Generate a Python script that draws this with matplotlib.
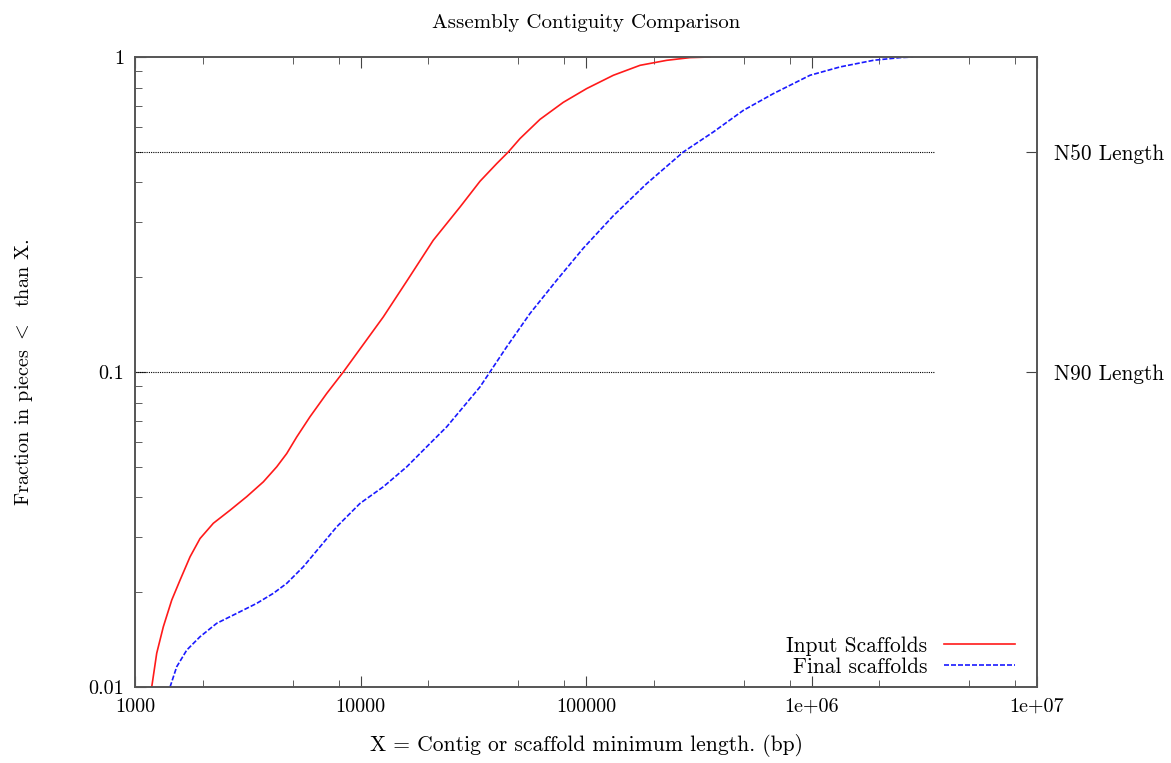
import matplotlib
matplotlib.use("Agg")
import matplotlib.pyplot as plt
from matplotlib.ticker import FixedLocator, NullFormatter

plt.rcParams['font.family'] = ['cmr10', 'DejaVu Serif']
plt.rcParams['mathtext.fontset'] = 'cm'
plt.rcParams['axes.unicode_minus'] = False

# values
input_x = [1186, 1248, 1335, 1455, 1584, 1754, 1942, 2225, 2638, 3128, 3707, 4250, 4707,
           5213, 5970, 7082, 8387, 9290, 12620, 16240, 21020, 27620, 33880, 40180, 45230,
           50970, 62520, 79300, 100700, 132200, 173600, 228000, 289300, 354700]
input_y = [0.0100, 0.0128, 0.01553, 0.01888, 0.02185, 0.0259, 0.0296, 0.0331, 0.0364,
           0.0402, 0.0448, 0.0500, 0.0551, 0.0622, 0.0721, 0.0855, 0.1000, 0.1106, 0.1496,
           0.197, 0.262, 0.334, 0.4033, 0.4588, 0.4995, 0.551, 0.634, 0.718, 0.794, 0.875,
           0.941, 0.976, 0.9956, 1.0]

final_x = [1430, 1531, 1696, 1942, 2303, 2825, 3465, 4105, 4707, 5575, 6613, 7844, 9949,
           12620, 16030, 19660, 24120, 28580, 33880, 38810, 44490, 56440, 74130, 97270,
           132200, 185900, 270100, 366900, 498400, 676900, 984800, 1338000, 1880000,
           2470000, 2830000]
final_y = [0.0100, 0.0116, 0.0131, 0.01444, 0.01593, 0.01713, 0.01843, 0.01983, 0.02133,
           0.02408, 0.02787, 0.03226, 0.03827, 0.04321, 0.0500, 0.0579, 0.0670, 0.0775,
           0.0897, 0.1038, 0.1202, 0.1534, 0.1956, 0.2472, 0.3134, 0.3965, 0.4995, 0.578,
           0.677, 0.765, 0.875, 0.930, 0.976, 0.9956, 1.0]

nx_levels = [0.5, 0.1]
nx_labels = ["N50 Length", "N90 Length"]
nx_xmax = 3500000

x_ticks = [1e3, 1e4, 1e5, 1e6, 1e7]
x_tick_labels = ["1000", "10000", "100000", "1e+06", "1e+07"]
y_ticks = [0.01, 0.1, 1]
y_tick_labels = ["0.01", "0.1", "1"]

fig = plt.figure(figsize=(11.71, 7.63), dpi=100)
ax = fig.add_axes([0.1153, 0.0996, 0.7703, 0.8257])

for level in nx_levels:
    ax.plot([1000, nx_xmax], [level, level], color="black", linestyle=(0, (1, 1)), linewidth=0.8)

ax.plot(input_x, input_y, color="#ff1a1a", linewidth=1.2, label="Input Scaffolds")
ax.plot(final_x, final_y, color="#1a1aff", linewidth=1.2, linestyle=(0, (3, 1.2)),
        label="Final scaffolds")

ax.set_xscale("log")
ax.set_yscale("log")
ax.set_xlim(1000, 1e7)
ax.set_ylim(0.01, 1)

minor_x = [m * 10 ** e for e in range(3, 7) for m in (2, 5, 8)]
minor_y = [m * 10 ** e for e in (-2, -1) for m in range(2, 10)]

ax.xaxis.set_major_locator(FixedLocator(x_ticks))
ax.xaxis.set_minor_locator(FixedLocator(minor_x))
ax.xaxis.set_minor_formatter(NullFormatter())
ax.set_xticklabels(x_tick_labels)
ax.yaxis.set_major_locator(FixedLocator(y_ticks))
ax.yaxis.set_minor_locator(FixedLocator(minor_y))
ax.yaxis.set_minor_formatter(NullFormatter())
ax.set_yticklabels(y_tick_labels)

ax.tick_params(which="both", direction="in", top=True, right=True, color="#444444",
               labelsize=14.5, pad=8)
ax.tick_params(which="major", length=8)
ax.tick_params(which="minor", length=5)

ax2 = ax.twinx()
ax2.set_yscale("log")
ax2.set_ylim(0.01, 1)
ax2.yaxis.set_major_locator(FixedLocator(nx_levels))
ax2.yaxis.set_minor_locator(FixedLocator([]))
ax2.set_yticklabels(nx_labels)
ax2.tick_params(which="major", direction="in", length=8, color="#444444", labelsize=15.4, pad=12)

for a in (ax, ax2):
    for s in a.spines.values():
        s.set_color("#555555")
        s.set_linewidth(1.2)

ax.set_title("Assembly Contiguity Comparison", fontsize=15, pad=21)
ax.set_xlabel("X = Contig or scaffold minimum length. (bp)", fontsize=15.5, labelpad=13)
ax.set_ylabel("Fraction in pieces $<$  than X.", fontsize=14.5, labelpad=38)

ax.legend(loc="lower right", bbox_to_anchor=(0.997, -0.014), frameon=False, markerfirst=False,
          fontsize=15.4, handlelength=3.3, labelspacing=0.05)

fig.savefig("out.png", dpi=100)
